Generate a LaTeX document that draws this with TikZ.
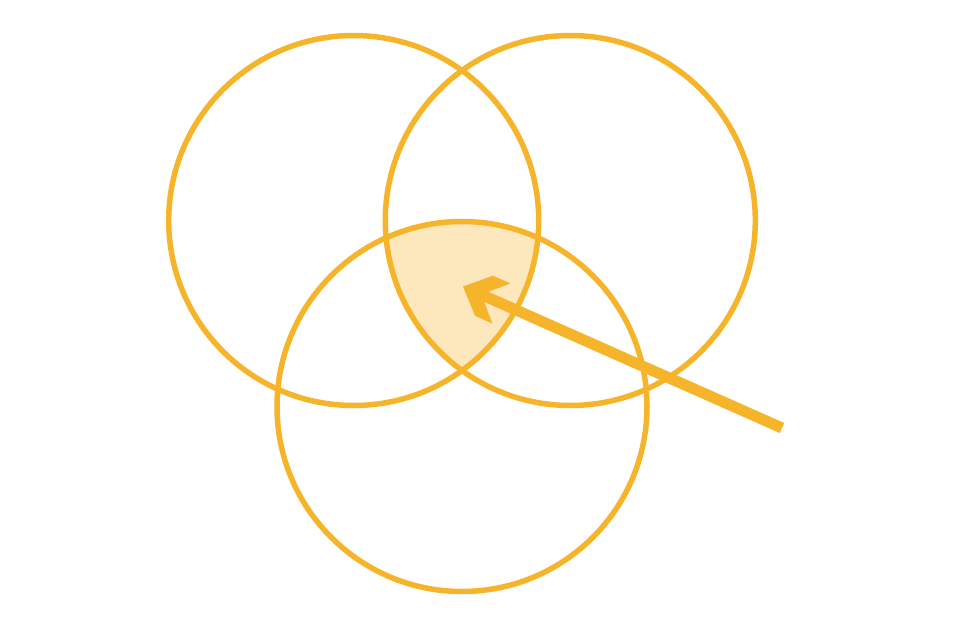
\documentclass[tikz,border=0pt]{standalone}
\definecolor{ring}{HTML}{F6B42A}
\definecolor{lens}{HTML}{FDE8BD}
\begin{document}
\begin{tikzpicture}[x=1pt,y=-1pt,
  ringline/.style={draw=ring,line width=5.5pt},
  arrowbody/.style={fill=ring,draw=none}]
\useasboundingbox (0,0) rectangle (980,626);
\coordinate (cl) at (353.7,220.5);
\coordinate (cr) at (570.3,220.5);
\coordinate (cb) at (462,406.5);
% shaded triple intersection
\begin{scope}
  \clip (cl) circle (185);
  \clip (cr) circle (185);
  \fill[lens] (cb) circle (185);
\end{scope}
\draw[ringline] (cl) circle (185);
\draw[ringline] (cr) circle (185);
\draw[ringline] (cb) circle (185);
% arrow
\coordinate (tail) at (782,428);
\coordinate (notch) at (486.3,296.8);
\draw[ring,line width=11pt] (tail) -- (notch);
\fill[arrowbody] (463,286.5) -- (492.9,275.7) -- (510.3,283.4) -- (488.5,291.8)
  -- (484.1,301.8) -- (492.5,323.6) -- (475.1,315.9) -- cycle;
\end{tikzpicture}
\end{document}
